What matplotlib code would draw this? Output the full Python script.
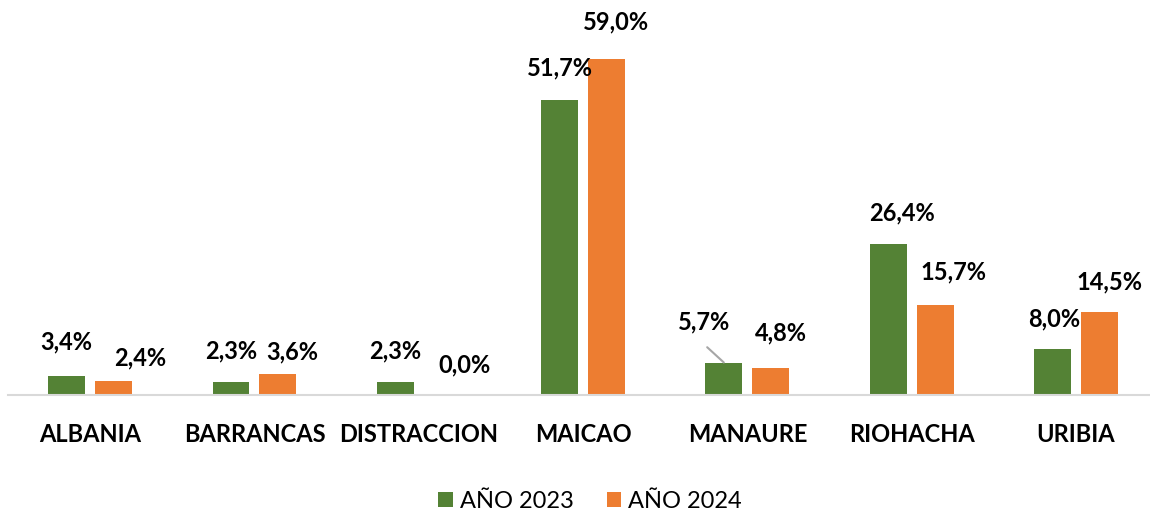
import matplotlib.pyplot as plt
import numpy as np

plt.rcParams['font.family'] = ['Lato', 'DejaVu Sans']

municipios = ["ALBANIA", "BARRANCAS", "DISTRACCION", "MAICAO", "MANAURE", "RIOHACHA", "URIBIA"]
anio_2023 = [3.4, 2.3, 2.3, 51.7, 5.7, 26.4, 8.0]
anio_2024 = [2.4, 3.6, 0.0, 59.0, 4.8, 15.7, 14.5]

# label offsets (points) from bar top, tuned by hand like in the excel chart
off_2023 = [(0, 24), (0, 22), (0, 22), (0, 23), (-14, 29), (10, 23), (1, 22)]
off_2024 = [(19, 17), (10, 16), (16, 22), (7, 26), (7, 25), (13, 24), (7, 22)]

x = np.arange(len(municipios))
w = 0.225
off = 0.143

fig = plt.figure(figsize=(11.5, 5.13), dpi=100)
ax = fig.add_axes([0.007, 0.23, 1.0, 0.756])

b1 = ax.bar(x - off, anio_2023, w, color="#548235", label="AÑO 2023")
b2 = ax.bar(x + off, anio_2024, w, color="#ED7D31", label="AÑO 2024")

for i in range(len(x)):
    ax.annotate(f"{anio_2023[i]:.1f}%".replace(".", ","), (x[i] - off, anio_2023[i]),
                xytext=off_2023[i], textcoords="offset points", ha="center", va="center",
                fontsize=17, fontweight="bold", color="#000000")
    ax.annotate(f"{anio_2024[i]:.1f}%".replace(".", ","), (x[i] + off, anio_2024[i]),
                xytext=off_2024[i], textcoords="offset points", ha="center", va="center",
                fontsize=17, fontweight="bold", color="#000000")

# leader line for MANAURE 2023
ax.annotate("", (x[4] - off, anio_2023[4]), xytext=(-12, 11), textcoords="offset points",
            arrowprops=dict(arrowstyle="-", color="#A6A6A6", lw=1.5, shrinkA=0, shrinkB=0))

ax.set_xlim(-0.5, 6.5)
ax.set_ylim(0, 68)
ax.set_yticks([])
ax.set_xticks(x)
ax.set_xticklabels(municipios, fontsize=17, fontweight="bold")
ax.tick_params(axis="x", length=0, pad=20)
for s in ["top", "right", "left"]:
    ax.spines[s].set_visible(False)
ax.spines["bottom"].set_color("#D9D9D9")
ax.spines["bottom"].set_linewidth(1.5)

fig.legend(handles=[b1, b2], loc="lower center", ncol=2, frameon=False, fontsize=17,
           bbox_to_anchor=(0.513, -0.04), handlelength=0.6, handleheight=0.6,
           handletextpad=0.3, columnspacing=1.4)

fig.savefig("out.png", dpi=100)
